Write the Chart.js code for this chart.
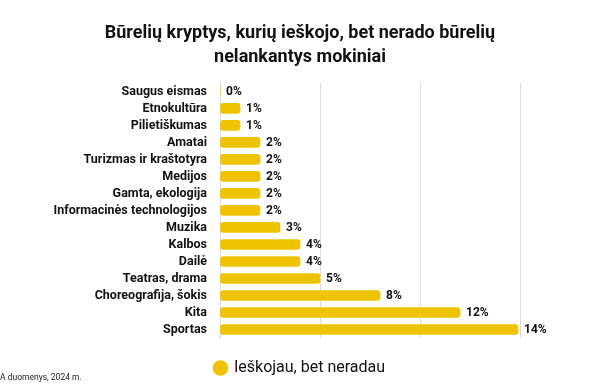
<!DOCTYPE html>
<html>
<head>
<meta charset="utf-8">
<script src="https://cdn.jsdelivr.net/npm/chart.js@4"></script>
<style>
  html, body { margin: 0; padding: 0; background: #fff; }
  #wrap { width: 600px; height: 390px; }
</style>
</head>
<body>
<div id="wrap"><canvas id="kryptysChart"></canvas></div>
<script>
const categories = [
    'Saugus eismas', 'Etnokultūra', 'Pilietiškumas', 'Amatai', 'Turizmas ir kraštotyra',
    'Medijos', 'Gamta, ekologija', 'Informacinės technologijos', 'Muzika', 'Kalbos',
    'Dailė', 'Teatras, drama', 'Choreografija, šokis', 'Kita', 'Sportas'
];
const values = [0, 1, 1, 2, 2, 2, 2, 2, 3, 4, 4, 5, 8, 12, 14.9];
const valueLabels = ['0%', '1%', '1%', '2%', '2%', '2%', '2%', '2%', '3%', '4%', '4%', '5%', '8%', '12%', '14%'];
const seriesName = 'Ieškojau, bet neradau';
const titleLines = ['Būrelių kryptys, kurių ieškojo, bet nerado būrelių', 'nelankantys mokiniai'];
const sourceText = 'A duomenys, 2024 m.';

const yellow = 'rgb(240, 195, 0)';

// value labels at the end of each bar
const barLabels = {
    id: 'barLabels',
    afterDatasetsDraw(chart) {
        const ctx = chart.ctx;
        const meta = chart.getDatasetMeta(0);
        ctx.save();
        ctx.font = 'bold 12px Roboto';
        ctx.fillStyle = '#111';
        ctx.textAlign = 'left';
        ctx.textBaseline = 'middle';
        meta.data.forEach((bar, i) => {
            ctx.fillText(valueLabels[i], bar.x + 6, bar.y + 1);
        });
        ctx.restore();
    }
};

const sourceNote = {
    id: 'sourceNote',
    afterDraw(chart) {
        const ctx = chart.ctx;
        ctx.save();
        ctx.font = '8.5px Roboto';
        ctx.fillStyle = '#222';
        ctx.textBaseline = 'middle';
        ctx.fillText(sourceText, 0, 378);
        ctx.restore();
    }
};

const ctx = document.getElementById('kryptysChart').getContext('2d');
new Chart(ctx, {
    type: 'bar',
    data: {
        labels: categories,
        datasets: [{
            label: seriesName,
            data: values,
            backgroundColor: yellow,
            borderRadius: 3,
            borderSkipped: false,
            barThickness: 10,
        }]
    },
    options: {
        indexAxis: 'y',
        responsive: true,
        maintainAspectRatio: false,
        animation: false,
        layout: {
            padding: { top: 22, right: 0, bottom: 4, left: 0 }
        },
        plugins: {
            title: {
                display: true,
                text: titleLines,
                color: '#111',
                font: { family: 'Roboto', size: 18, weight: 'bold', lineHeight: 1.33 },
                padding: { top: 0, bottom: 13 }
            },
            legend: {
                position: 'bottom',
                labels: {
                    usePointStyle: true,
                    pointStyle: 'circle',
                    boxWidth: 11,
                    boxHeight: 11,
                    color: '#111',
                    font: { family: 'Roboto', size: 16 },
                    padding: 10
                }
            },
            tooltip: { enabled: false }
        },
        scales: {
            x: {
                min: 0,
                max: 19,
                afterFit(scale) { scale.height = 12; },
                ticks: { display: false, stepSize: 5 },
                grid: {
                    color: (c) => (c.tick && c.tick.value % 5 === 0) ? '#dcdcdc' : 'transparent',
                    drawTicks: false
                },
                border: { display: false }
            },
            y: {
                afterFit(scale) { scale.width = 220; },
                ticks: {
                    autoSkip: false,
                    color: '#111',
                    font: { family: 'Roboto', size: 12.5, weight: 'bold' },
                    padding: 13
                },
                grid: { display: false, drawTicks: false },
                border: { color: '#dcdcdc' }
            }
        }
    },
    plugins: [barLabels, sourceNote]
});
</script>
</body>
</html>
